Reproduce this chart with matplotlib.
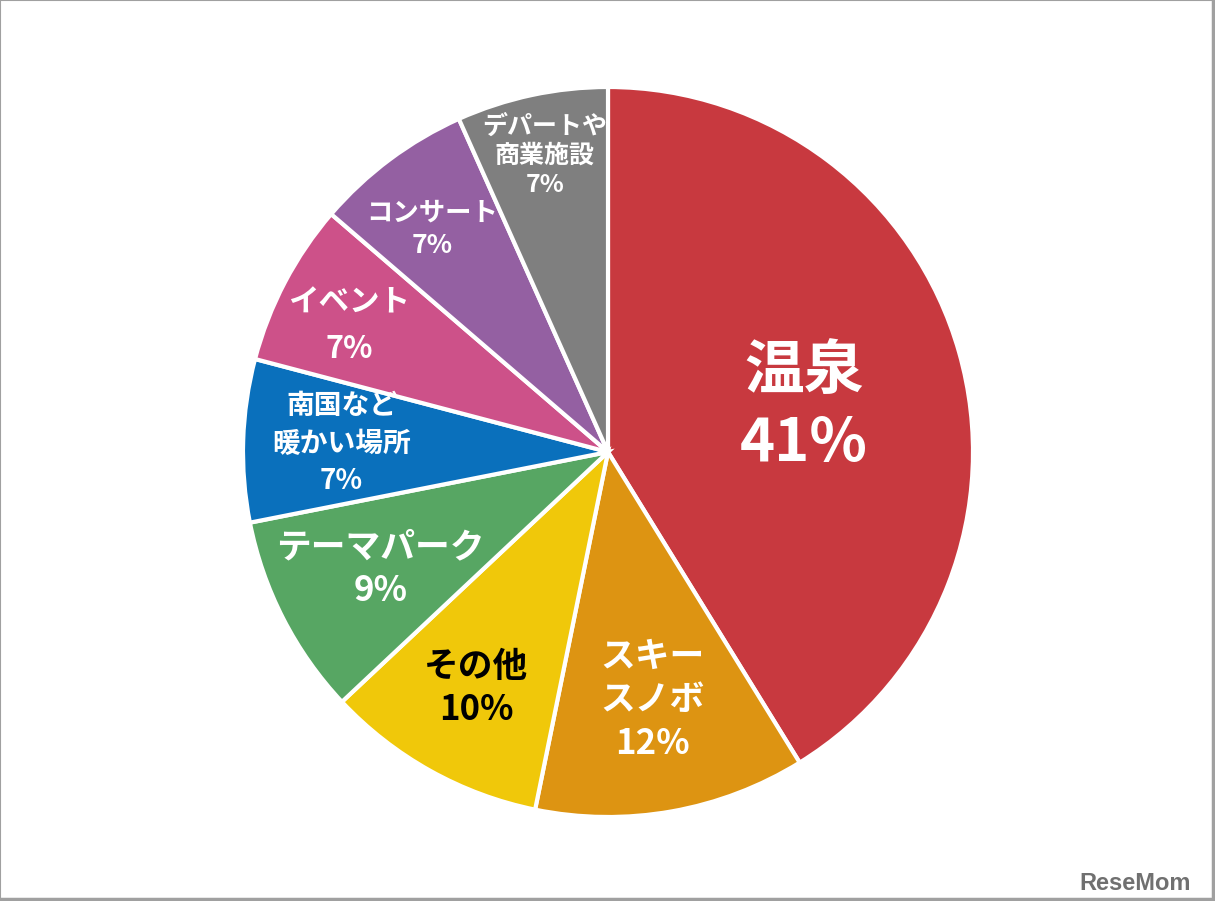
import matplotlib.pyplot as plt
import numpy as np
from matplotlib.patches import Rectangle
from matplotlib.lines import Line2D

plt.rcParams['font.family'] = ['Noto Sans CJK JP', 'DejaVu Sans']

# slices, clockwise from the top
labels = ['温泉', 'スキー\nスノボ', 'その他', 'テーマパーク', '南国など\n暖かい場所',
          'イベント', 'コンサート', 'デパートや\n商業施設']
pct_labels = ['41%', '12%', '10%', '9%', '7%', '7%', '7%', '7%']
values = [41.2, 12.0, 9.8, 8.9, 7.2, 7.2, 7.0, 6.7]

colors = ['#C8393F', '#DD9412', '#F0C80A', '#57A663', '#0A70BC', '#CD5189', '#9460A2', '#7F7F7F']
text_colors = ['white', 'white', 'black', 'white', 'white', 'white', 'white', 'white']
font_sizes = [43, 25, 25, 25, 20, 22, 19, 18]
label_dist = [0.55, 0.69, 0.74, 0.70, 0.73, 0.79, 0.777, 0.83]
angle_shift = [3.2, 0, 0, 0, 0, -1.7, -1.5, 0]   # degrees, clockwise
line_sp = [1.25, 1.3, 1.3, 1.3, 1.42, 1.6, 1.3, 1.28]

W, H = 1215, 901
fig = plt.figure(figsize=(W / 100, H / 100), dpi=100)
ax = fig.add_axes([0, 0, 1, 1])

cx, cy, r = 608, H - 452, 365
wedges, _ = ax.pie(values, colors=colors, startangle=90, counterclock=False,
                   center=(cx, cy), radius=r,
                   wedgeprops=dict(edgecolor='white', linewidth=3))
ax.set_xlim(0, W)
ax.set_ylim(0, H)
ax.set_aspect('equal')
ax.axis('off')

for w, name, pct, tc, fs, d, sh, ls in zip(wedges, labels, pct_labels, text_colors,
                                           font_sizes, label_dist, angle_shift, line_sp):
    mid = np.deg2rad((w.theta1 + w.theta2) / 2 - sh)
    x = cx + d * r * np.cos(mid)
    y = cy + d * r * np.sin(mid)
    ax.text(x, y, name + '\n' + pct, ha='center', va='center', color=tc,
            fontsize=fs, fontweight='bold', linespacing=ls, multialignment='center')

# frame around the picture
fig.patches.append(Rectangle((0, 0), 1, 1, transform=fig.transFigure, fill=False,
                             edgecolor='#A0A0A0', linewidth=1.5))
fig.lines.append(Line2D([0, 1], [0.002, 0.002], transform=fig.transFigure,
                        color='#A0A0A0', linewidth=2.5))
fig.lines.append(Line2D([0.998, 0.998], [0, 1], transform=fig.transFigure,
                        color='#A0A0A0', linewidth=2.5))

fig.text(0.98, 0.012, 'ReseMom', ha='right', va='baseline', color='#707070',
         fontsize=17, fontweight='bold', fontstretch='condensed',
         family=['Liberation Sans Narrow', 'Liberation Sans'])

fig.savefig('out.png', dpi=100, facecolor='white')
